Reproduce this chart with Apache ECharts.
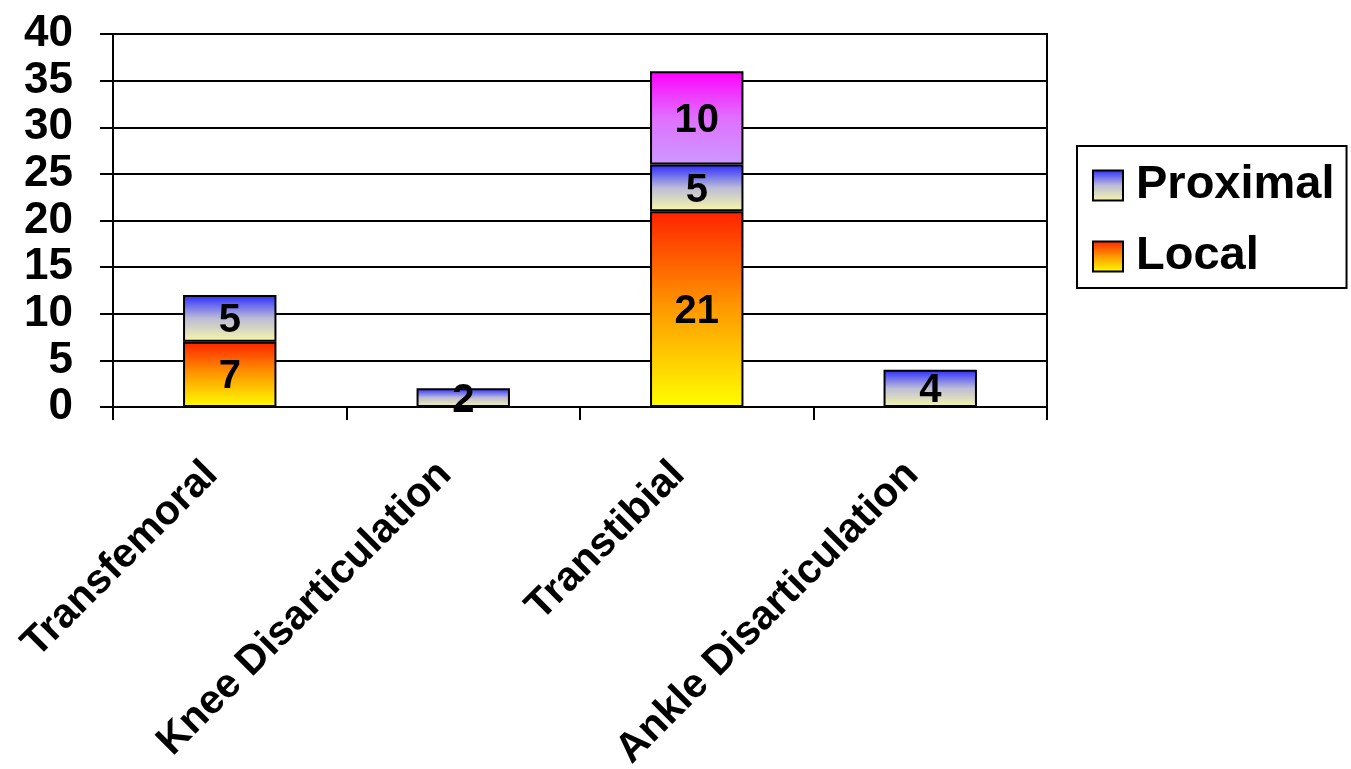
<!DOCTYPE html>
<html>
<head>
<meta charset="utf-8">
<title>Amputation level</title>
<script src="https://cdn.jsdelivr.net/npm/echarts@6/dist/echarts.min.js"></script>
<style>
  html, body { margin: 0; padding: 0; background: #fff; }
  #chart { width: 1351px; height: 769px; }
</style>
</head>
<body>
<div id="chart"></div>
<script>
// Amputation levels and recurrence counts per site
const categories = ['Transfemoral', 'Knee Disarticulation', 'Transtibial', 'Ankle Disarticulation'];
const localValues = [7, null, 21, null];
const proximalValues = [5, 2, 5, 4];
const upperValues = [null, null, 10, null];
const yTicks = { min: 0, max: 40, interval: 5 };

const FONT = '"Liberation Sans", Arial, sans-serif';

function vGrad(top, mid, bottom) {
  const stops = [{ offset: 0, color: top }];
  if (mid) stops.push({ offset: 0.5, color: mid });
  stops.push({ offset: 1, color: bottom });
  return new echarts.graphic.LinearGradient(0, 0, 0, 1, stops);
}

const localFill = vGrad('#ff2200', '#ff9a00', '#ffff00');
const proximalFill = vGrad('#2a2aff', '#bcbcd8', '#f8f8a8');
const upperFill = vGrad('#ff00ff', '#e070ff', '#cc99ff');

const barLabel = {
  show: true,
  position: 'inside',
  offset: [0, 3],
  color: '#000',
  fontFamily: FONT,
  fontWeight: 'bold',
  fontSize: 40
};

function barSeries(name, values, fill) {
  return {
    name: name,
    type: 'bar',
    stack: 'total',
    barWidth: '40%',
    data: values,
    itemStyle: { color: fill, borderColor: '#000', borderWidth: 2 },
    label: barLabel,
    emphasis: { disabled: true }
  };
}

const chart = echarts.init(document.getElementById('chart'), null, { renderer: 'canvas' });
chart.setOption({
  animation: false,
  backgroundColor: '#fff',
  grid: {
    left: 113, right: 304, top: 34, bottom: 362,
    outerBoundsMode: 'none',
    containLabel: false,
    show: true, borderColor: '#000', borderWidth: 2, backgroundColor: 'transparent'
  },
  legend: {
    data: ['Proximal', 'Local'],
    orient: 'vertical',
    left: 1077, top: 146,
    padding: [16, 12, 8, 15],
    itemWidth: 30, itemHeight: 30, itemGap: 24,
    borderColor: '#000', borderWidth: 2,
    icon: 'rect',
    itemStyle: { borderColor: '#000', borderWidth: 2 },
    textStyle: { fontFamily: FONT, fontWeight: 'bold', fontSize: 47, color: '#000', padding: [0, 0, 0, 8] }
  },
  xAxis: {
    type: 'category',
    data: categories,
    axisLine: { lineStyle: { color: '#000', width: 2 } },
    axisTick: { show: true, length: 13, lineStyle: { color: '#000', width: 2 } },
    axisLabel: {
      interval: 0, rotate: 45, margin: 43,
      padding: [0, 26, 0, 0],
      fontFamily: FONT, fontWeight: 'bold', fontSize: 41, color: '#000'
    }
  },
  yAxis: {
    type: 'value',
    min: yTicks.min, max: yTicks.max, interval: yTicks.interval,
    axisLine: { show: true, lineStyle: { color: '#000', width: 2 } },
    axisTick: { show: true, length: 13, lineStyle: { color: '#000', width: 2 } },
    splitLine: { lineStyle: { color: '#000', width: 2 } },
    axisLabel: { margin: 40, fontFamily: FONT, fontWeight: 'bold', fontSize: 44, color: '#000' }
  },
  series: [
    barSeries('Local', localValues, localFill),
    barSeries('Proximal', proximalValues, proximalFill),
    barSeries('Other', upperValues, upperFill)
  ]
});
</script>
</body>
</html>
